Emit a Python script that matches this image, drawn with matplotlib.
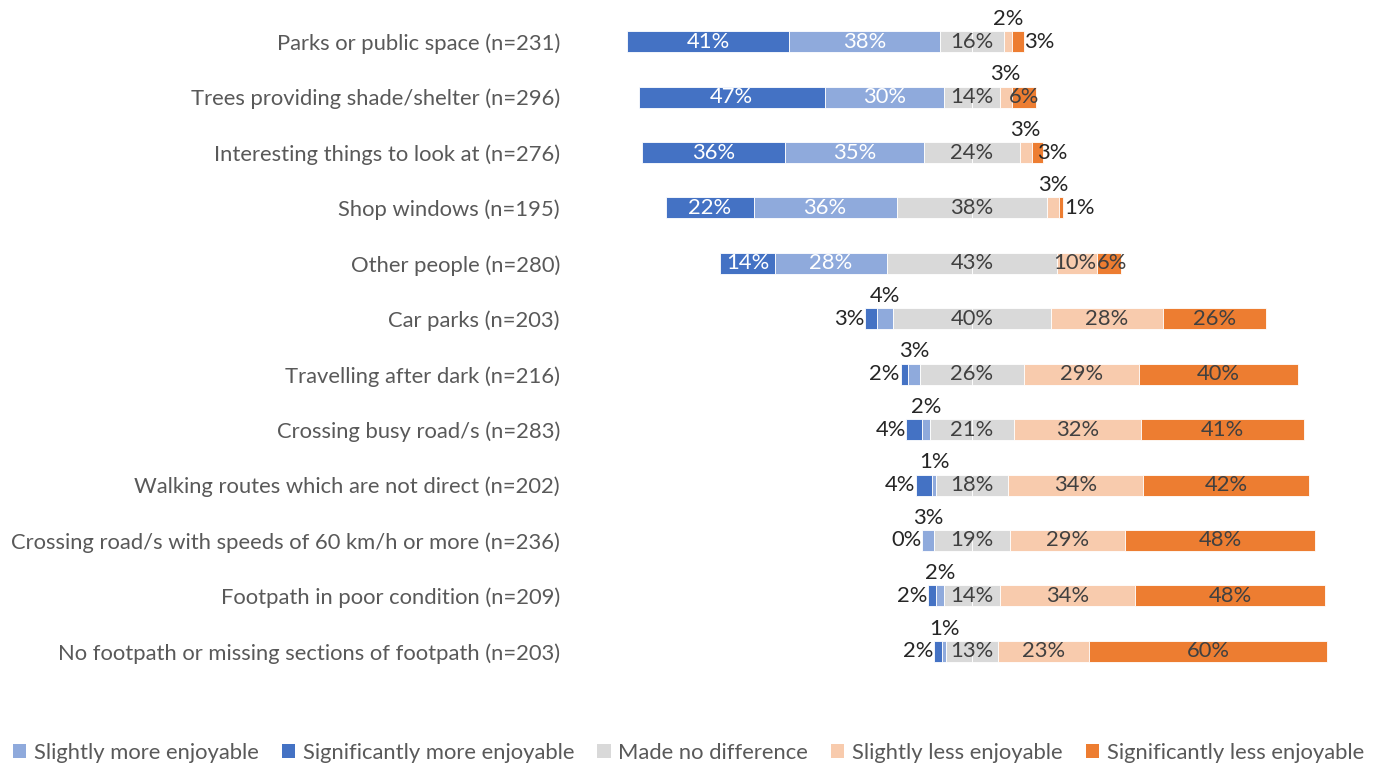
import matplotlib
matplotlib.use("Agg")
import matplotlib.pyplot as plt
from matplotlib.patches import Patch
import numpy as np

plt.rcParams['font.family'] = ['Lato', 'DejaVu Sans']

categories = [
    "Parks or public space (n=231)",
    "Trees providing shade/shelter (n=296)",
    "Interesting things to look at (n=276)",
    "Shop windows (n=195)",
    "Other people (n=280)",
    "Car parks (n=203)",
    "Travelling after dark (n=216)",
    "Crossing busy road/s (n=283)",
    "Walking routes which are not direct (n=202)",
    "Crossing road/s with speeds of 60 km/h or more (n=236)",
    "Footpath in poor condition (n=209)",
    "No footpath or missing sections of footpath (n=203)",
]
sig_more = [41, 47, 36, 22, 14, 3, 2, 4, 4, 0, 2, 2]
slight_more = [38, 30, 35, 36, 28, 4, 3, 2, 1, 3, 2, 1]
no_diff = [16, 14, 24, 38, 43, 40, 26, 21, 18, 19, 14, 13]
slight_less = [2, 3, 3, 3, 10, 28, 29, 32, 34, 29, 34, 23]
sig_less = [3, 6, 3, 1, 6, 26, 40, 41, 42, 48, 48, 60]

series_names = ["Significantly more enjoyable", "Slightly more enjoyable",
                "Made no difference", "Slightly less enjoyable",
                "Significantly less enjoyable"]
colors = {
    "Significantly more enjoyable": "#4472C4",
    "Slightly more enjoyable": "#8FAADC",
    "Made no difference": "#D9D9D9",
    "Slightly less enjoyable": "#F8CBAD",
    "Significantly less enjoyable": "#ED7D31",
}
inside_text = {
    "Significantly more enjoyable": "white",
    "Slightly more enjoyable": "white",
    "Made no difference": "#404040",
    "Slightly less enjoyable": "#404040",
    "Significantly less enjoyable": "#404040",
}

W, H = 1377, 765
fig = plt.figure(figsize=(W / 100, H / 100), dpi=100)
ax = fig.add_axes([575 / W, 1 - 679 / H, 795 / W, 665 / H])

y = np.arange(len(categories))
bar_h = 0.38
fs = 15.8
outside_color = "#262626"

sm = np.array(sig_more, float)
lm = np.array(slight_more, float)
nd = np.array(no_diff, float)
ll = np.array(slight_less, float)
sl = np.array(sig_less, float)

# bars are centred on the middle of the "no difference" segment
left = -(sm + lm + nd / 2)
values = [sm, lm, nd, ll, sl]

for name, vals in zip(series_names, values):
    col = colors[name]
    if name == "Made no difference":
        # neutral share drawn as two halves either side of zero
        ax.barh(y, vals / 2, left=left, height=bar_h, color=col,
                edgecolor="white", linewidth=0.6)
        ax.barh(y, vals / 2, left=left + vals / 2, height=bar_h, color=col,
                edgecolor="white", linewidth=0.6)
    else:
        ax.barh(y, vals, left=left, height=bar_h, color=col,
                edgecolor="white", linewidth=0.6)

    for i, v in enumerate(vals):
        label = f"{int(v)}%"
        start, end = left[i], left[i] + v
        mid = (start + end) / 2
        if name == "Significantly more enjoyable" and v <= 4:
            ax.text(start - 0.2, y[i], label, ha="right", va="center",
                    fontsize=fs, color=outside_color)
        elif name in ("Slightly more enjoyable", "Slightly less enjoyable") and v <= 4:
            ax.text(mid, y[i] - 0.41, label, ha="center", va="center",
                    fontsize=fs, color=outside_color)
        elif name == "Significantly less enjoyable" and v <= 3:
            ax.text(mid if v >= 3 and ll[i] >= 3 else end + 0.2, y[i], label,
                    ha="left", va="center", fontsize=fs, color=outside_color)
        else:
            # nudge labels of narrow neighbouring segments apart
            shift = 0.0
            if name == "Slightly less enjoyable" and v <= 10 and sl[i] <= 6:
                shift = -0.7
            elif name == "Significantly less enjoyable" and v <= 6 and ll[i] >= 10:
                shift = 0.9
            ax.text(mid + shift, y[i], label, ha="center", va="center",
                    fontsize=fs, color=inside_text[name])
    left = left + vals

ax.set_xlim(-100, 100.25)
ax.set_ylim(len(categories) - 0.5, -0.5)
ax.set_yticks(y)
ax.set_yticklabels(categories, fontsize=fs, color="#595959")
ax.tick_params(axis="y", length=0, pad=10.8)
ax.set_xticks([])
for s in ax.spines.values():
    s.set_visible(False)

legend_order = ["Slightly more enjoyable", "Significantly more enjoyable",
                "Made no difference", "Slightly less enjoyable",
                "Significantly less enjoyable"]
handles = [Patch(facecolor=colors[n], edgecolor="none") for n in legend_order]
fig.legend(handles, legend_order, loc="center", bbox_to_anchor=(0.5, 1 - 753 / H),
           ncol=5, frameon=False, fontsize=fs, labelcolor="#595959",
           handlelength=0.6, handleheight=0.6, handletextpad=0.35,
           columnspacing=1.05, borderaxespad=0)

fig.savefig("out.png", dpi=100)
